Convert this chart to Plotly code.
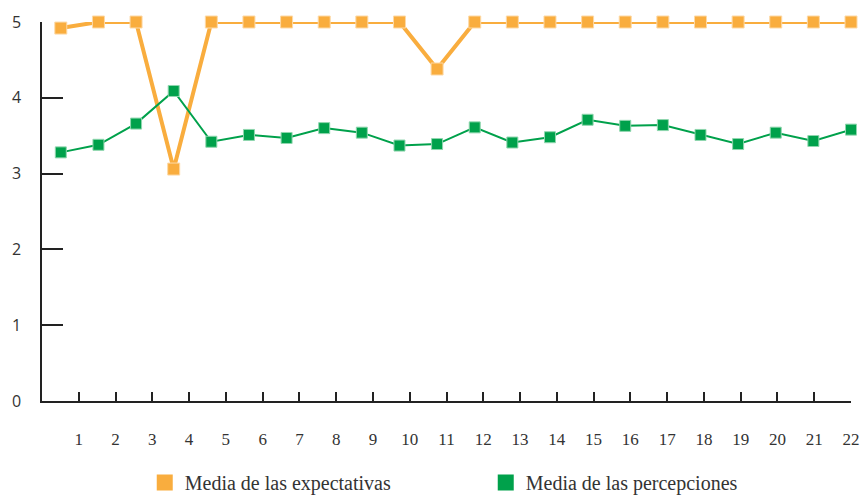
import plotly.graph_objects as go

# datos
items = list(range(1, 23))
expectativas = [4.92, 5, 5, 3.06, 5, 5, 5, 5, 5, 5, 4.38,
                5, 5, 5, 5, 5, 5, 5, 5, 5, 5, 5]
percepciones = [3.28, 3.38, 3.66, 4.09, 3.42, 3.51, 3.47, 3.60, 3.54, 3.37, 3.39,
                3.61, 3.41, 3.48, 3.71, 3.63, 3.64, 3.51, 3.39, 3.54, 3.43, 3.58]
tick_vals = list(range(1, 23))
tick_text = [str(t) for t in tick_vals]

naranja = "#F9AD3E"
verde = "#00A14B"
serif = "Liberation Serif"

fig = go.Figure()

trace1 = go.Scatter(x=items,
                    y=expectativas,
                    mode="lines+markers",
                    line=dict(color=naranja, width=4),
                    marker=dict(symbol="square", size=12, color=naranja,
                                line=dict(color="#FDD9A6", width=1)),
                    name="Media de las expectativas",
                    showlegend=False,
                    cliponaxis=False,
                    xaxis="x2")
trace2 = go.Scatter(x=items,
                    y=percepciones,
                    mode="lines+markers",
                    line=dict(color=verde, width=2),
                    marker=dict(symbol="square", size=11, color=verde,
                                line=dict(color="#8FD6AE", width=1)),
                    name="Media de las percepciones",
                    showlegend=False,
                    cliponaxis=False,
                    xaxis="x2")
# entradas de leyenda (solo el cuadrado), en el eje x visible
leg1 = go.Scatter(x=[None], y=[None], mode="markers",
                  marker=dict(symbol="square", size=18, color=naranja),
                  name="Media de las expectativas")
leg2 = go.Scatter(x=[None], y=[None], mode="markers",
                  marker=dict(symbol="square", size=18, color=verde),
                  name="Media de las percepciones")

fig.add_traces([trace1, trace2, leg1, leg2])

fig.update_layout(
    width=863,
    height=497,
    margin=dict(l=42, r=12, t=22, b=96, autoexpand=False),
    plot_bgcolor="white",
    paper_bgcolor="white",
    font=dict(family=serif, size=17, color="#333333"),
    xaxis=dict(range=[0, 22], tickvals=tick_vals, ticktext=tick_text,
               showgrid=False, zeroline=False,
               showline=True, linecolor="#222222", linewidth=1.5,
               ticks="inside", ticklen=9, tickwidth=1.5, tickcolor="#222222",
               ticklabelstandoff=22,
               tickfont=dict(family=serif, size=17, color="#333333")),
    xaxis2=dict(range=[0.5, 22], overlaying="x", visible=False),
    yaxis=dict(range=[0, 5], tickvals=[0, 1, 2, 3, 4, 5],
               showgrid=False, zeroline=False,
               showline=True, linecolor="#222222", linewidth=1.5,
               ticks="inside", ticklen=21, tickwidth=1.5, tickcolor="#222222",
               ticklabelstandoff=16,
               tickfont=dict(family="Open Sans", size=16, color="#333333")),
    legend=dict(orientation="h", x=0.127, xanchor="left",
                y=-0.215, yanchor="middle",
                entrywidth=296, entrywidthmode="pixels",
                font=dict(family=serif, size=20, color="#333333")),
)

# quitar el margen por defecto del body para que la figura empiece en (0, 0)
fig.write_html("out.html",
               config={"displayModeBar": False},
               post_script="document.body.style.margin='0';"
                           "document.body.style.overflow='hidden';")
